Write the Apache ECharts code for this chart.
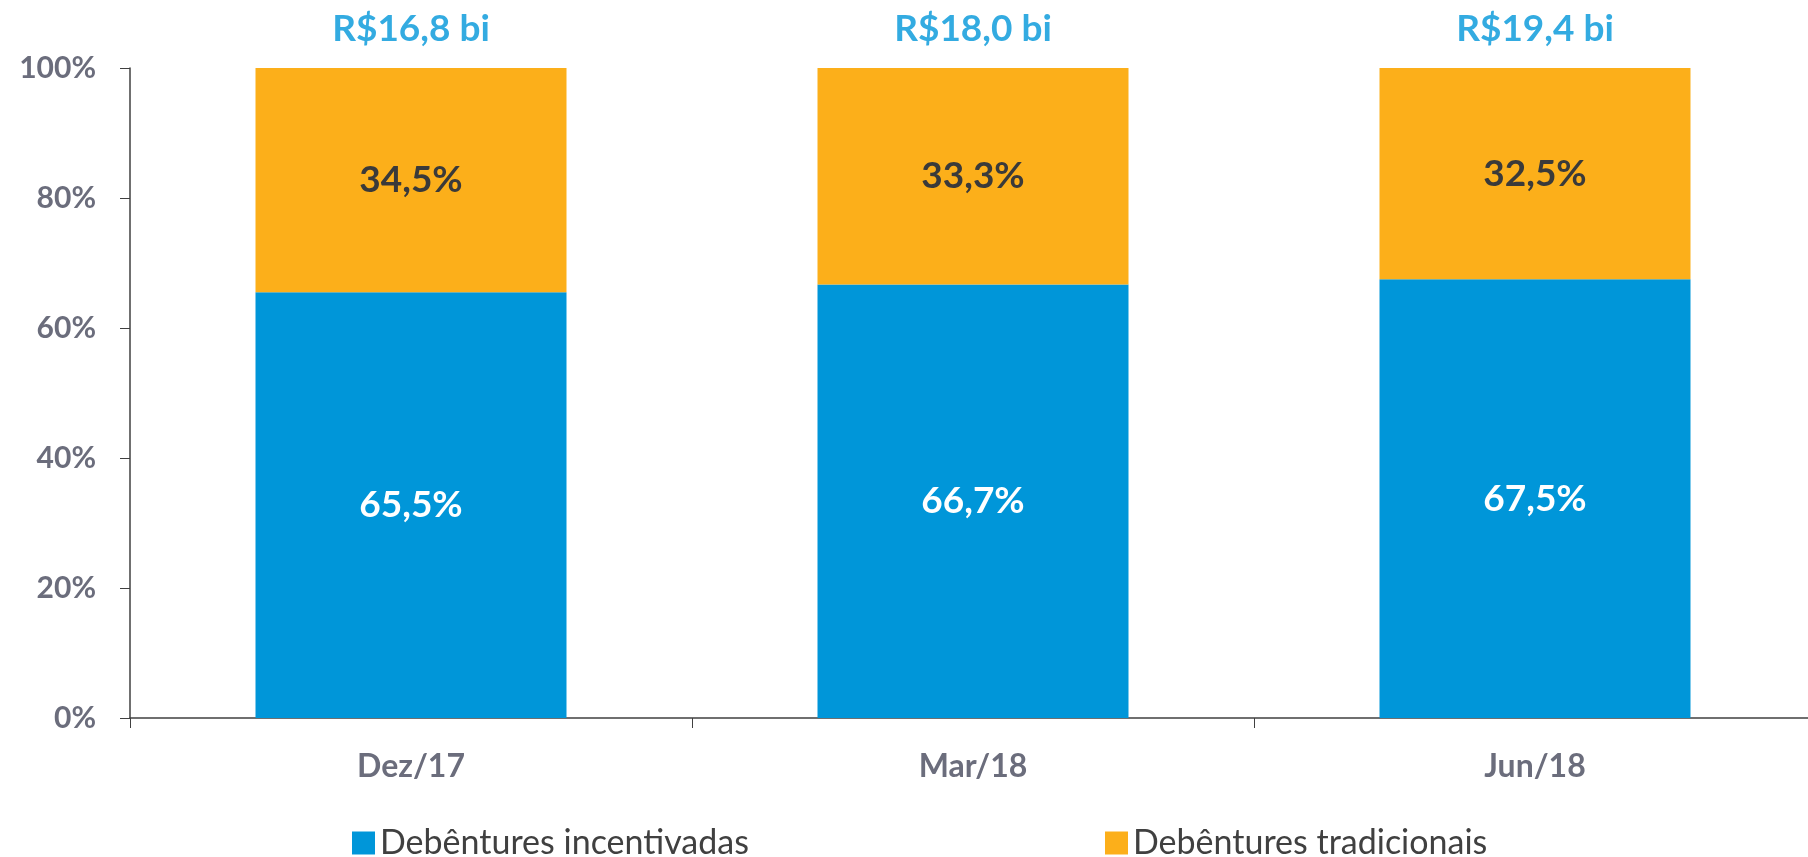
<!DOCTYPE html>
<html>
<head>
<meta charset="utf-8">
<script src="https://cdn.jsdelivr.net/npm/echarts@6/dist/echarts.min.js"></script>
<style>
  html, body { margin: 0; padding: 0; background: #fff; overflow: hidden; }
  #chart { width: 1816px; height: 857px; }
</style>
</head>
<body>
<div id="chart"></div>
<script>
var categories = ['Dez/17', 'Mar/18', 'Jun/18'];
var incentivadas = [65.5, 66.7, 67.5];
var tradicionais = [34.5, 33.3, 32.5];
var totals = ['R$16,8 bi', 'R$18,0 bi', 'R$19,4 bi'];
var topLine = [100, 100, 100];

var dom = document.getElementById('chart');
var myChart = echarts.init(dom);

var colors = ['#0096d9', '#fcaf1a'];
var font = 'Lato, "Open Sans", sans-serif';

function pct(p) {
    return p.value.toFixed(1).replace('.', ',') + '%';
}

var option = {
    color: colors,
    animation: false,
    textStyle: { fontFamily: font },
    grid: {
        left: 130,
        top: 68,
        right: 0,
        height: 650,
        containLabel: false
    },
    legend: [
        {
            left: 347,
            top: 821,
            itemWidth: 23,
            itemHeight: 23,
            itemGap: 8,
            icon: 'rect',
            data: ['Debêntures incentivadas'],
            textStyle: { fontSize: 34, color: '#404040', fontFamily: font }
        },
        {
            left: 1100,
            top: 821,
            itemWidth: 23,
            itemHeight: 23,
            icon: 'rect',
            data: ['Debêntures tradicionais'],
            textStyle: { fontSize: 34, color: '#404040', fontFamily: font }
        }
    ],
    xAxis: {
        type: 'category',
        data: categories,
        axisLine: { lineStyle: { color: '#404040', width: 1.5 } },
        axisTick: { show: true, length: 10, lineStyle: { color: '#404040' } },
        axisLabel: {
            margin: 33,
            fontSize: 32,
            fontWeight: 'bold',
            color: '#6b6d7c',
            fontFamily: font
        }
    },
    yAxis: {
        type: 'value',
        min: 0,
        max: 100,
        interval: 20,
        splitLine: { show: false },
        axisLine: { show: true, lineStyle: { color: '#404040', width: 1.5 } },
        axisTick: { show: true, length: 10, lineStyle: { color: '#404040' } },
        axisLabel: {
            formatter: '{value}%',
            margin: 34,
            fontSize: 30,
            fontWeight: 'bold',
            color: '#6b6d7c',
            fontFamily: font
        }
    },
    series: [
        {
            name: 'Debêntures incentivadas',
            type: 'bar',
            stack: 'total',
            barWidth: 311,
            data: incentivadas,
            label: {
                show: true,
                position: 'inside',
                formatter: pct,
                fontSize: 37,
                fontWeight: 'bold',
                color: '#ffffff',
                fontFamily: font
            }
        },
        {
            name: 'Debêntures tradicionais',
            type: 'bar',
            stack: 'total',
            barWidth: 311,
            data: tradicionais,
            label: {
                show: true,
                position: 'inside',
                formatter: pct,
                fontSize: 37,
                fontWeight: 'bold',
                color: '#3a3a3a',
                fontFamily: font
            }
        },
        {
            name: 'total',
            type: 'scatter',
            symbolSize: 0,
            data: topLine,
            silent: true,
            label: {
                show: true,
                position: 'top',
                distance: 20,
                formatter: function (p) { return totals[p.dataIndex]; },
                fontSize: 37,
                fontWeight: 'bold',
                color: '#0096d9',
                fontFamily: font
            }
        }
    ]
};

if (option && typeof option === 'object') {
    myChart.setOption(option, true);
}
</script>
</body>
</html>
